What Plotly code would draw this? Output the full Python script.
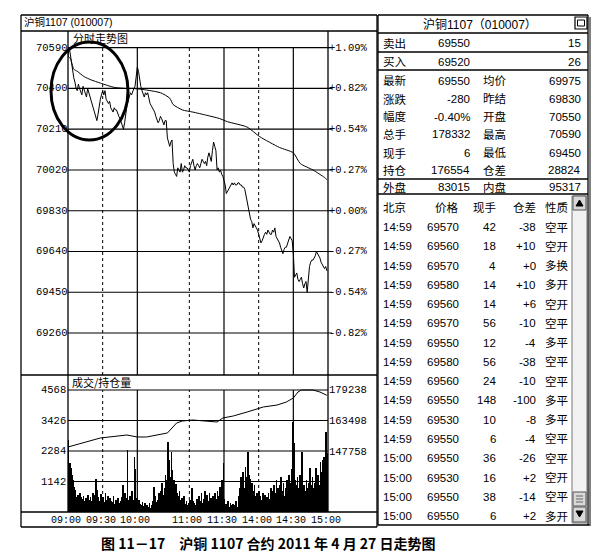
import plotly.graph_objects as go

W, H = 600, 557

# ---------------- data ----------------
PREV_SETTLE = 69830
PRICE_TICKS = [70590, 70400, 70210, 70020, 69830, 69640, 69450, 69260]
VOL_TICKS = [1142, 2284, 3426, 4568]
OI_TICKS = [147758, 163498, 179238]
TIME_LABELS = ["09:00", "09:30", "10:00", "11:00", "11:30", "14:00", "14:30", "15:00"]
DOTTED_TIMES = ["09:30", "11:00", "14:00"]
SOLID_TIMES = ["10:00", "11:30", "14:30"]

# last price, one value per trading minute
PRICE = [
    70550, 70590, 70560, 70520, 70480, 70450, 70430, 70400, 70390, 70420,
    70400, 70380, 70370, 70410, 70390, 70370, 70360, 70400, 70380, 70360,
    70350, 70330, 70310, 70290, 70270, 70250, 70280, 70320, 70350, 70370,
    70390, 70370, 70390, 70350, 70340, 70330, 70340, 70310, 70300, 70290,
    70310, 70300, 70300, 70280, 70270, 70260, 70240, 70230, 70210, 70240,
    70290, 70320, 70340, 70360, 70380, 70370, 70390, 70400, 70410, 70460,
    70500, 70480, 70440, 70410, 70390, 70370, 70360, 70380, 70370, 70380,
    70350, 70330, 70320, 70310, 70300, 70290, 70270, 70250, 70240, 70250,
    70270, 70260, 70240, 70230, 70250, 70250, 70170, 70150, 70130, 70150,
    70160, 70050, 70010, 70000, 69990, 70030, 70020, 70010, 70050, 70010,
    70020, 70040, 70030, 70030, 70020, 70010, 70040, 70060, 70070, 70040,
    70020, 70040, 70050, 70040, 70030, 70050, 70070, 70060, 70050, 70060,
    70040, 70080, 70100, 70080, 70060, 70110, 70150, 70130, 70110, 70020,
    70030, 70010, 70020, 70000, 69990, 69970, 69950, 69910, 69920, 69930,
    69940, 69950, 69960, 69950, 69960, 69950, 69950, 69960, 69960, 69950,
    69950, 69940, 69940, 69930, 69900, 69870, 69840, 69810, 69790, 69780,
    69750, 69770, 69760, 69750, 69740, 69720, 69700, 69680, 69690, 69710,
    69720, 69730, 69720, 69740, 69730, 69720, 69720, 69740, 69730, 69750,
    69710, 69700, 69690, 69680, 69660, 69640, 69630, 69650, 69660, 69660,
    69680, 69700, 69710, 69700, 69690, 69630, 69520, 69530, 69540, 69510,
    69500, 69510, 69520, 69490, 69470, 69490, 69500, 69450, 69520, 69570,
    69590, 69600, 69600, 69610, 69620, 69640, 69630, 69620, 69610, 69590,
    69580, 69570, 69560, 69570, 69550,
]

# average price line (minute, price)
AVG_MIN = [0, 2, 5, 8, 14, 20, 28, 40, 50, 56, 65, 80, 88, 91, 99, 108,
           120, 131, 138, 155, 166, 183, 195, 201, 212, 222, 224]
AVG_VAL = [70550, 70540, 70490, 70480, 70455, 70440, 70425, 70405, 70400,
           70400, 70395, 70380, 70355, 70325, 70300, 70290, 70275, 70260,
           70245, 70220, 70175, 70125, 70100, 70050, 70020, 69985, 69975]

# volume per minute
VOLUME = [
    2690, 1830, 1650, 1380, 1200, 940, 820, 560, 640, 500, 700, 560, 480, 600, 420,
    520, 380, 640, 450, 560, 400, 700, 480, 620, 1230, 820, 560, 430, 680, 510,
    560, 380, 720, 450, 600, 350, 520, 430, 380, 600, 300, 450, 380, 520, 330,
    400, 560, 1010, 380, 700, 520, 2320, 450, 600, 380, 800, 450, 2060, 1600, 520,
    380, 450, 300, 260, 380, 240, 320, 200, 280, 180, 350, 150, 260, 420, 940,
    600, 380, 450, 700, 520, 800, 1100, 620, 900, 1400, 1200, 2620, 1940, 1300, 2240,
    1570, 1200, 900, 1050, 700, 600, 800, 450, 520, 380, 600, 300, 400, 280, 350,
    450, 300, 900, 400, 350, 280, 500, 380, 600, 420, 700, 350, 500, 800, 600,
    650, 400, 700, 520, 380, 600, 450, 720, 500, 800, 600, 950, 700, 1200, 1830,
    500, 300, 260, 400, 200, 350, 250, 300, 180, 260, 420, 200, 600, 900, 1300,
    1100, 1500, 900, 1700, 1300, 2240, 1400, 1250, 900, 1100, 800, 1000, 600, 700, 500,
    800, 600, 450, 700, 500, 650, 400, 550, 700, 500, 900, 600, 800, 1000, 700,
    1200, 900, 700, 1000, 1310, 800, 1100, 600, 900, 1200, 800, 1400, 1100, 1600, 3370,
    2580, 1200, 1000, 1300, 900, 1400, 1100, 2240, 900, 1000, 800, 1200, 900, 1100, 1650,
    1000, 1300, 900, 1100, 1650, 800, 1400, 1000, 1870, 1500, 1950, 2060, 1600, 2990, 2200,
]

# open interest (minute, contracts)
OI_MIN = [0, 28, 51, 60, 68, 86, 94, 99, 108, 121, 129, 134, 143, 155, 169,
          181, 189, 195, 199, 202, 212, 218, 222, 224]
OI_VAL = [150300, 154870, 156390, 155380, 155380, 157410, 162480, 163500,
          164000, 163500, 162990, 165020, 166040, 168070, 170610, 171620,
          173140, 175180, 178220, 179240, 179240, 178220, 177210, 176554]

QUOTE_TITLE = "沪铜1107（010007）"
QUOTE_ROWS = [
    ("卖出", "69550", "", "15"),
    ("买入", "69520", "", "26"),
    ("最新", "69550", "均价", "69975"),
    ("涨跌", "-280", "昨结", "69830"),
    ("幅度", "-0.40%", "开盘", "70550"),
    ("总手", "178332", "最高", "70590"),
    ("现手", "6", "最低", "69450"),
    ("持仓", "176554", "仓差", "28824"),
    ("外盘", "83015", "内盘", "95317"),
]

TRADE_HEADER = ["北京", "价格", "现手", "仓差", "性质"]
TRADE_TIME = ["14:59"] * 12 + ["15:00"] * 4
TRADE_PRICE = [69570, 69560, 69570, 69580, 69560, 69570, 69550, 69580,
               69560, 69550, 69530, 69550, 69550, 69530, 69550, 69550]
TRADE_VOL = [42, 18, 4, 14, 14, 56, 12, 56, 24, 148, 10, 6, 36, 16, 38, 6]
TRADE_DIFF = ["-38", "+10", "+0", "+10", "+6", "-10", "-4", "-38",
              "-10", "-100", "-8", "-4", "-26", "+2", "-14", "+2"]
TRADE_NATURE = ["空平", "空开", "多换", "多开", "空开", "空平", "多平", "空平",
                "空平", "多平", "多平", "空平", "空平", "空开", "空平", "多开"]

CAPTION = "图 11－17　沪铜 1107 合约 2011 年 4 月 27 日走势图"


# ---------------- helpers ----------------
def session_minute(hhmm):
    """Clock time -> minutes elapsed in the trading day (sessions skip breaks)."""
    h, m = map(int, hhmm.split(":"))
    t = h * 60 + m
    sessions = [(540, 615), (630, 690), (810, 900)]
    off = 0
    for a, b in sessions:
        if t <= b:
            return off + max(t - a, 0)
        off += b - a
    return off


def pxx(x):
    return x / W


def pyy(y):
    return 1 - y / H


# panel geometry (pixels)
PL, PR = 68, 328            # plot left / right
P_TOP, P_BOT = 31, 375      # price panel
V_TOP, V_BOT = 375, 512     # volume panel
FRAME_L, FRAME_R = 21, 377
RP_L, RP_R = 378, 588
DAY_MINUTES = 225

# price scale: 70590 at y=47.7, 190 per 40.76 px
k = 190 / 40.76
price_top = 70590 + (47.7 - P_TOP) * k
price_bot = 70590 - (P_BOT - 47.7) * k
# volume scale: 0 at y=512, 4568 at y=390
vk = 4568 / (V_BOT - 390)
vol_top = (V_BOT - V_TOP) * vk
# open interest scale: 179238 at y=390, 147758 at y=452
ok = (179238 - 147758) / 62
oi_top = 179238 + (390 - V_TOP) * ok
oi_bot = 179238 - (V_BOT - 390) * ok


def minute_to_px(m):
    return PL + (PR - PL) * m / DAY_MINUTES


MONO = "Liberation Mono, monospace"
SANS = "Liberation Sans, Noto Sans CJK SC"
CJK = "Noto Sans CJK SC"

fig = go.Figure()

fig.add_trace(go.Scatter(
    x=list(range(len(PRICE))), y=PRICE, mode="lines",
    line=dict(color="black", width=1), xaxis="x", yaxis="y", hoverinfo="skip"))
fig.add_trace(go.Scatter(
    x=AVG_MIN, y=AVG_VAL, mode="lines", line=dict(color="black", width=1, shape="spline", smoothing=0.6),
    xaxis="x", yaxis="y", hoverinfo="skip"))
fig.add_trace(go.Bar(
    x=[i + 0.5 for i in range(len(VOLUME))], y=VOLUME, width=0.6,
    marker=dict(color="black", line=dict(width=0)), xaxis="x2", yaxis="y2", hoverinfo="skip"))
fig.add_trace(go.Scatter(
    x=OI_MIN, y=OI_VAL, mode="lines", line=dict(color="black", width=1),
    xaxis="x2", yaxis="y3", hoverinfo="skip"))

ax_common = dict(showgrid=False, zeroline=False, showticklabels=False, showline=False, ticks="", fixedrange=True)
fig.update_layout(
    width=W, height=H, margin=dict(l=0, r=0, t=0, b=0),
    paper_bgcolor="white", plot_bgcolor="rgba(0,0,0,0)", showlegend=False, bargap=0,
    xaxis=dict(domain=[pxx(PL), pxx(PR)], range=[0, DAY_MINUTES], anchor="y", **ax_common),
    yaxis=dict(domain=[pyy(P_BOT), pyy(P_TOP)], range=[price_bot, price_top], anchor="x", **ax_common),
    xaxis2=dict(domain=[pxx(PL), pxx(PR)], range=[0, DAY_MINUTES], anchor="y2", **ax_common),
    yaxis2=dict(domain=[pyy(V_BOT), pyy(V_TOP)], range=[0, vol_top], anchor="x2", **ax_common),
    yaxis3=dict(range=[oi_bot, oi_top], overlaying="y2", anchor="x2", side="right", **ax_common),
)

shapes = []
ann = []


def hline(y, x0, x1, width=1, color="black", dash="solid"):
    shapes.append(dict(type="line", xref="paper", yref="paper", x0=pxx(x0), x1=pxx(x1),
                       y0=pyy(y), y1=pyy(y), line=dict(color=color, width=width, dash=dash)))


def vline(x, y0, y1, width=1, color="black", dash="solid"):
    shapes.append(dict(type="line", xref="paper", yref="paper", x0=pxx(x), x1=pxx(x),
                       y0=pyy(y0), y1=pyy(y1), line=dict(color=color, width=width, dash=dash)))


def text(x, y, s, anchor="left", size=11, family=SANS, bold=False, color="black"):
    ann.append(dict(xref="paper", yref="paper", x=pxx(x), y=pyy(y), text=f"<b>{s}</b>" if bold else s,
                    showarrow=False, xanchor=anchor, yanchor="middle",
                    font=dict(size=size, family=family, color=color)))


# ---- left panel frame ----
hline(15, FRAME_L, FRAME_R, 1.3)
hline(31, FRAME_L, FRAME_R, 1.3)
hline(P_BOT, FRAME_L, FRAME_R, 1.3)
hline(V_BOT, FRAME_L, FRAME_R, 1.3)
hline(527, FRAME_L, FRAME_R, 1.5)
vline(FRAME_L, 15, 527, 1.3)
vline(FRAME_R, 15, 527, 1.3)
vline(PL, P_TOP, V_BOT, 1.3)
vline(PR, P_TOP, V_BOT, 1.3)
text(FRAME_L + 1, 22.5, "沪铜1107 (010007)", size=10.5, family=SANS)
text(71, 38.5, "分时走势图", size=11, family=CJK)
text(70, 382, "成交/持仓量", size=11, family=CJK)

# ---- price grid ----
for p in PRICE_TICKS:
    shapes.append(dict(type="line", xref="paper", yref="y", x0=pxx(PL), x1=pxx(PR + 4), y0=p, y1=p,
                       line=dict(color="black", width=1.2)))
    ann.append(dict(xref="paper", yref="y", x=pxx(PL + 1.5), y=p, text=str(p), showarrow=False,
                    xanchor="right", yanchor="middle", font=dict(size=10.5, family=MONO, color="black")))
    pct = (p - PREV_SETTLE) / PREV_SETTLE * 100
    ann.append(dict(xref="paper", yref="y", x=pxx(PR - 1), y=p, text=f"{pct:+.2f}%", showarrow=False,
                    xanchor="left", yanchor="middle", font=dict(size=10.5, family=MONO, color="black")))

# ---- volume grid ----
for v in VOL_TICKS:
    shapes.append(dict(type="line", xref="paper", yref="y2", x0=pxx(PL), x1=pxx(PR), y0=v, y1=v,
                       line=dict(color="black", width=1.2)))
    ann.append(dict(xref="paper", yref="y2", x=pxx(PL), y=v, text=str(v), showarrow=False,
                    xanchor="right", yanchor="middle", font=dict(size=10.5, family=MONO, color="black")))
for o in OI_TICKS:
    ann.append(dict(xref="paper", yref="y3", x=pxx(PR - 1), y=o, text=str(o), showarrow=False,
                    xanchor="left", yanchor="middle", font=dict(size=10.5, family=MONO, color="black")))

# ---- time grid ----
for t in DOTTED_TIMES + SOLID_TIMES:
    m = session_minute(t)
    dash = "dot" if t in DOTTED_TIMES else "solid"
    w = 1 if dash == "dot" else 1.2
    shapes.append(dict(type="line", xref="x", yref="paper", x0=m, x1=m, y0=pyy(P_BOT), y1=pyy(47.7),
                       line=dict(color="black", width=w, dash=dash)))
    shapes.append(dict(type="line", xref="x2", yref="paper", x0=m, x1=m, y0=pyy(V_BOT), y1=pyy(390),
                       line=dict(color="black", width=w, dash=dash)))
for t in TIME_LABELS:
    x = minute_to_px(session_minute(t)) - 2
    text(x, 520, t, anchor="center", size=10, family=MONO)

# ---- hand-drawn ring on the opening swing ----
shapes.append(dict(type="circle", xref="paper", yref="paper", x0=pxx(51), x1=pxx(128),
                   y0=pyy(140), y1=pyy(42), line=dict(color="black", width=3)))

# ---- right quote panel ----
hline(15, RP_L, RP_R, 1.3)
hline(33, RP_L, RP_R, 1.3)
hline(52, RP_L, RP_R, 1.3)
hline(70, RP_L, RP_R, 1.3)
hline(179, RP_L, RP_R, 1.3)
hline(194, RP_L, RP_R, 1.3)
hline(525, RP_L, RP_R + 2, 1.6)
vline(RP_L, 15, 525, 1.3)
vline(RP_R, 15, 525, 1.3)
vline(RP_R + 2, 17, 526, 1.5, color="#555")
text(480, 24.5, QUOTE_TITLE, anchor="center", size=12)
shapes.append(dict(type="rect", xref="paper", yref="paper", x0=pxx(575), x1=pxx(587), y0=pyy(29), y1=pyy(17),
                   line=dict(color="black", width=1.2)))
shapes.append(dict(type="rect", xref="paper", yref="paper", x0=pxx(577.5), x1=pxx(584.5), y0=pyy(26), y1=pyy(20),
                   line=dict(color="black", width=1)))

row_y = [43, 62, 81, 99, 117, 134, 153, 170, 187]
for (l1, v1, l2, v2), y in zip(QUOTE_ROWS, row_y):
    text(381, y, l1, size=11.5)
    text(472, y, v1, anchor="right", size=11.5)
    if l2:
        text(481, y, l2, size=11.5)
    text(583, y, v2, anchor="right", size=11.5)

# trade list
hdr_y = 207
col_x = [381, 461, 498, 538, 543]
col_anchor = ["left", "right", "right", "right", "left"]
for s, x, a in zip(TRADE_HEADER, col_x, col_anchor):
    text(x, hdr_y, s, anchor=a, size=11.5)
for i in range(len(TRADE_TIME)):
    y = 227 + i * 19.27
    vals = [TRADE_TIME[i], str(TRADE_PRICE[i]), str(TRADE_VOL[i]), TRADE_DIFF[i], TRADE_NATURE[i]]
    for s, x, a in zip(vals, col_x, col_anchor):
        text(x, y, s, anchor=a, size=11.5)

# scrollbar
shapes.append(dict(type="rect", xref="paper", yref="paper", x0=pxx(572), x1=pxx(587), y0=pyy(523), y1=pyy(196),
                   line=dict(color="#777", width=1), fillcolor="#f2f2f2"))
for y0, y1 in [(196, 210), (492, 506), (507, 522)]:
    shapes.append(dict(type="rect", xref="paper", yref="paper", x0=pxx(573), x1=pxx(586), y0=pyy(y1), y1=pyy(y0),
                       line=dict(color="#555", width=1), fillcolor="#d8d8d8"))
shapes.append(dict(type="path", xref="paper", yref="paper",
                   path=f"M {pxx(576)},{pyy(206)} L {pxx(583)},{pyy(206)} L {pxx(579.5)},{pyy(200)} Z",
                   fillcolor="black", line=dict(color="black", width=1)))
shapes.append(dict(type="path", xref="paper", yref="paper",
                   path=f"M {pxx(576)},{pyy(511)} L {pxx(583)},{pyy(511)} L {pxx(579.5)},{pyy(517)} Z",
                   fillcolor="black", line=dict(color="black", width=1)))
for yy in (496, 499, 502):
    hline(yy, 576, 583, 1, color="#666")

# caption
text(268, 543, CAPTION, anchor="center", size=14, family=CJK, bold=True)

fig.update_layout(shapes=shapes, annotations=ann)
fig.write_html("out.html")
